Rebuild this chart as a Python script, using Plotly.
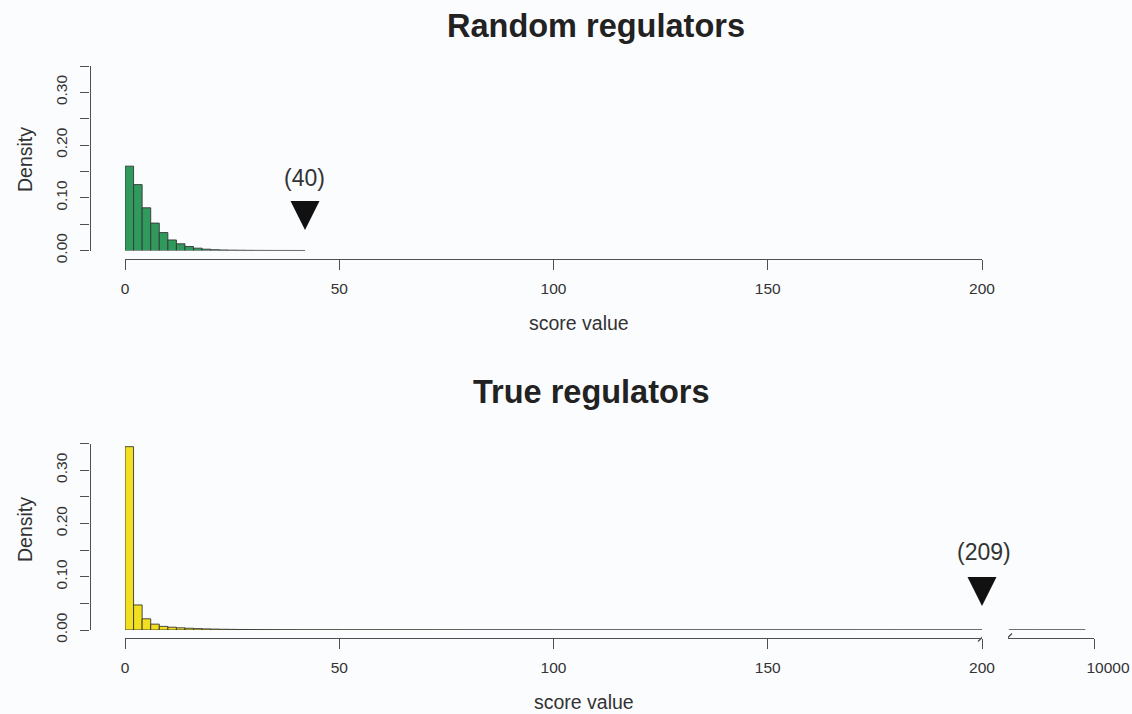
import plotly.graph_objects as go

# ---------------- data ----------------
# Random regulators: histogram (bin width 2) of score values
rand_bin_left = [0, 2, 4, 6, 8, 10, 12, 14, 16, 18, 20, 22, 24, 26, 28, 30, 32, 34, 36, 38, 40]
rand_bin_width = [2] * len(rand_bin_left)
rand_density = [0.160, 0.125, 0.081, 0.052, 0.034, 0.020, 0.0127, 0.0076, 0.0044, 0.0025,
                 0.0015, 0.0010, 0.0007, 0.0005, 0.0003, 0.0002, 0.00015, 0.0001, 0.0001,
                 0.00008, 0.00005]
rand_marker_x = [42]
rand_marker_y = [0.039]
rand_label = "(40)"
rand_label_y = 0.138

# True regulators: histogram, fine bins near 0, coarser bins after 40
true_bin_left = [0, 2, 4, 6, 8, 10, 12, 14, 16, 18, 20, 22, 24, 26, 28, 30, 32, 34, 36, 38,
                 40, 50, 60, 70, 80, 90, 100, 110, 120, 130, 140, 150, 160, 170, 180, 190]
true_bin_width = [2] * 20 + [10] * 16
true_density = [0.344, 0.047, 0.021, 0.011, 0.0068, 0.0052, 0.0041, 0.0033, 0.0026, 0.0021,
                0.0017, 0.0014, 0.0012, 0.0010, 0.0009, 0.0008, 0.0007, 0.0006, 0.0005, 0.0005,
                0.0004, 0.0003, 0.0003, 0.00025, 0.0002, 0.0002, 0.00015, 0.00015, 0.0001,
                0.0001, 0.0001, 0.00008, 0.00008, 0.00006, 0.00005, 0.00005]
# tail beyond the axis break (200 ... 10000)
tail_bin_left = [300, 1000, 3000]
tail_bin_width = [700, 2000, 6000]
tail_density = [0.00004, 0.00002, 0.00001]
true_marker_x = [200]   # drawn at the axis break
true_marker_y = [0.045]
true_label = "(209)"
true_label_y = 0.147

x_ticks = [0, 50, 100, 150, 200]
x_tick_text = ["0", "50", "100", "150", "200"]
x_break_ticks = [10000]
x_break_tick_text = ["10000"]
y_ticks = [0, 0.05, 0.10, 0.15, 0.20, 0.25, 0.30, 0.35]
y_tick_text = ["0.00", "", "0.10", "", "0.20", "", "0.30", ""]

# ---------------- style ----------------
W, H = 1132, 714
FONT = "Liberation Sans, Arial, Helvetica, sans-serif"
AX = "#505050"
TXT = "#333333"
BG = "#fbfcfe"
GREEN = "#2f9a5c"
YELLOW = "#f2df1f"
OUTLINE = "#353535"


def px_x(p):
    return p / W


def px_y(p):
    return (H - p) / H


fig = go.Figure()


def centers(left, width):
    return [l + w / 2 for l, w in zip(left, width)]


fig.add_trace(go.Bar(x=centers(rand_bin_left, rand_bin_width), y=rand_density,
                     width=rand_bin_width, marker=dict(color=GREEN, line=dict(color=OUTLINE, width=0.9)),
                     xaxis="x", yaxis="y", showlegend=False, hoverinfo="skip"))
fig.add_trace(go.Bar(x=centers(true_bin_left, true_bin_width), y=true_density,
                     width=true_bin_width, marker=dict(color=YELLOW, line=dict(color=OUTLINE, width=0.9)),
                     xaxis="x2", yaxis="y2", showlegend=False, hoverinfo="skip"))
fig.add_trace(go.Bar(x=centers(tail_bin_left, tail_bin_width), y=tail_density,
                     width=tail_bin_width, marker=dict(color=YELLOW, line=dict(color=OUTLINE, width=0.9)),
                     xaxis="x3", yaxis="y2", showlegend=False, hoverinfo="skip"))

# arrow markers with labels
fig.add_trace(go.Scatter(x=rand_marker_x, y=rand_marker_y, mode="markers",
                         marker=dict(symbol="arrow-down", size=29, color="#111111",
                                     line=dict(width=0)),
                         xaxis="x", yaxis="y", cliponaxis=False, showlegend=False, hoverinfo="skip"))
fig.add_trace(go.Scatter(x=true_marker_x, y=true_marker_y, mode="markers",
                         marker=dict(symbol="arrow-down", size=29, color="#111111",
                                     line=dict(width=0)),
                         xaxis="x2", yaxis="y2", cliponaxis=False, showlegend=False, hoverinfo="skip"))

fig.add_annotation(x=rand_marker_x[0], y=rand_label_y, xref="x", yref="y", text=rand_label,
                   xanchor="center", yanchor="middle",
                   showarrow=False, font=dict(family=FONT, size=23, color=TXT))
fig.add_annotation(x=true_marker_x[0], y=true_label_y, xref="x2", yref="y2", text=true_label,
                   xanchor="center", yanchor="middle", xshift=2,
                   showarrow=False, font=dict(family=FONT, size=23, color=TXT))

# titles
fig.add_annotation(x=px_x(596), y=px_y(26), xref="paper", yref="paper",
                   text="<b>Random regulators</b>", showarrow=False,
                   xanchor="center", yanchor="middle",
                   font=dict(family=FONT, size=32.5, color="#222222"))
fig.add_annotation(x=px_x(591), y=px_y(392), xref="paper", yref="paper",
                   text="<b>True regulators</b>", showarrow=False,
                   xanchor="center", yanchor="middle",
                   font=dict(family=FONT, size=32.5, color="#222222"))
# axis titles
for xc, yc in [(579, 323), (584, 702)]:
    fig.add_annotation(x=px_x(xc), y=px_y(yc), xref="paper", yref="paper", text="score value",
                       xanchor="center", yanchor="middle",
                       showarrow=False, font=dict(family=FONT, size=19.5, color=TXT))
for yc in [160, 530]:
    fig.add_annotation(x=px_x(25), y=px_y(yc), xref="paper", yref="paper", text="Density",
                       xanchor="center", yanchor="middle",
                       textangle=-90, showarrow=False, font=dict(family=FONT, size=19.5, color=TXT))

xdom = [px_x(125), px_x(982)]
top_ydom = [px_y(250.5), px_y(66)]
bot_ydom = [px_y(630), px_y(443.5)]
top_xpos = px_y(258.5)
bot_xpos = px_y(637.5)
ypos = px_x(89.5)

common_x = dict(showgrid=False, zeroline=False, showline=True, linecolor=AX, linewidth=1.3,
                ticks="outside", ticklen=10, tickwidth=1.3, tickcolor=AX,
                tickfont=dict(family=FONT, size=15.5, color=TXT), anchor="free",
                ticklabelstandoff=6, ticklabeloverflow="allow",
                automargin=False, fixedrange=True)
common_y = dict(showgrid=False, zeroline=False, showline=True, linecolor=AX, linewidth=1.3,
                ticks="outside", ticklen=9, tickwidth=1.3, tickcolor=AX,
                tickfont=dict(family=FONT, size=15.5, color=TXT), anchor="free",
                tickangle=-90, range=[0, 0.35], tickvals=y_ticks, ticktext=y_tick_text,
                ticklabelstandoff=7, ticklabeloverflow="allow",
                position=ypos, automargin=False, fixedrange=True)

fig.update_layout(
    width=W, height=H, autosize=False,
    margin=dict(l=0, r=0, t=0, b=0, pad=0, autoexpand=False),
    paper_bgcolor=BG, plot_bgcolor=BG,
    barmode="overlay",
    xaxis=dict(common_x, domain=xdom, range=[0, 200], tickvals=x_ticks, ticktext=x_tick_text,
               position=top_xpos),
    yaxis=dict(common_y, domain=top_ydom),
    xaxis2=dict(common_x, domain=xdom, range=[0, 200], tickvals=x_ticks, ticktext=x_tick_text,
                position=bot_xpos),
    xaxis3=dict(common_x, domain=[px_x(1008), px_x(1094)], range=[200, 10000],
                tickvals=x_break_ticks, ticktext=x_break_tick_text, position=bot_xpos,
                ticklabelshift=14),
    yaxis2=dict(common_y, domain=bot_ydom),
)

# axis-break slashes
for xr, xa in [("x2", 200), ("x3", 200)]:
    fig.add_shape(type="line", xref=xr, yref="paper", xsizemode="pixel", ysizemode="pixel",
                  xanchor=xa, yanchor=bot_xpos, x0=-4, x1=4, y0=-4, y1=4,
                  line=dict(color=AX, width=1.3))

fig.write_html("out.html", config={"displayModeBar": False},
               post_script="document.body.style.margin='0';document.body.style.background='%s';" % BG)
